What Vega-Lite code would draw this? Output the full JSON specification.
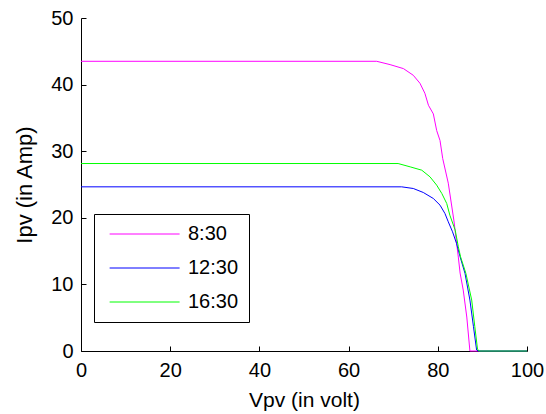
{
  "$schema": "https://vega.github.io/schema/vega-lite/v6.json",
  "width": 446,
  "height": 333,
  "autosize": {"type": "none"},
  "padding": {"left": 81, "top": 18, "right": 19, "bottom": 63},
  "background": "white",
  "config": {
    "view": {"stroke": null},
    "font": "Liberation Sans",
    "axis": {
      "grid": false,
      "domainColor": "black",
      "domainWidth": 1,
      "tickColor": "black",
      "tickSize": -5,
      "labelFlush": false,
      "labelFont": "Liberation Sans",
      "labelFontSize": 20,
      "labelColor": "black",
      "titleFont": "Liberation Sans",
      "titleFontWeight": "normal",
      "titleColor": "black"
    }
  },
  "data": {
    "values": [
      {"time": "8:30", "V": 0, "I": 43.5},
      {"time": "8:30", "V": 66.3, "I": 43.5},
      {"time": "8:30", "V": 69.3, "I": 43.0},
      {"time": "8:30", "V": 72.3, "I": 42.4},
      {"time": "8:30", "V": 74.5, "I": 41.4},
      {"time": "8:30", "V": 76.0, "I": 40.2},
      {"time": "8:30", "V": 77.1, "I": 38.7},
      {"time": "8:30", "V": 77.9, "I": 36.9},
      {"time": "8:30", "V": 79.0, "I": 35.6},
      {"time": "8:30", "V": 79.75, "I": 33.1},
      {"time": "8:30", "V": 80.5, "I": 31.6},
      {"time": "8:30", "V": 81.1, "I": 28.9},
      {"time": "8:30", "V": 82.35, "I": 25.2},
      {"time": "8:30", "V": 83.6, "I": 19.65},
      {"time": "8:30", "V": 84.6, "I": 14.1},
      {"time": "8:30", "V": 85.0, "I": 11.7},
      {"time": "8:30", "V": 85.7, "I": 9.15},
      {"time": "8:30", "V": 86.5, "I": 5.1},
      {"time": "8:30", "V": 87.2, "I": 0},
      {"time": "8:30", "V": 100, "I": 0},
      {"time": "12:30", "V": 0, "I": 24.65},
      {"time": "12:30", "V": 71.9, "I": 24.65},
      {"time": "12:30", "V": 74.5, "I": 24.4},
      {"time": "12:30", "V": 76.75, "I": 23.8},
      {"time": "12:30", "V": 79.0, "I": 22.9},
      {"time": "12:30", "V": 80.5, "I": 21.9},
      {"time": "12:30", "V": 81.6, "I": 20.65},
      {"time": "12:30", "V": 82.35, "I": 19.4},
      {"time": "12:30", "V": 83.3, "I": 17.9},
      {"time": "12:30", "V": 84.2, "I": 16.15},
      {"time": "12:30", "V": 85.0, "I": 14.15},
      {"time": "12:30", "V": 86.1, "I": 11.65},
      {"time": "12:30", "V": 87.2, "I": 7.65},
      {"time": "12:30", "V": 88.0, "I": 3.65},
      {"time": "12:30", "V": 88.7, "I": 0.15},
      {"time": "12:30", "V": 89.1, "I": 0},
      {"time": "12:30", "V": 100, "I": 0},
      {"time": "16:30", "V": 0, "I": 28.15},
      {"time": "16:30", "V": 71.1, "I": 28.15},
      {"time": "16:30", "V": 73.8, "I": 27.65},
      {"time": "16:30", "V": 76.4, "I": 27.15},
      {"time": "16:30", "V": 78.25, "I": 26.15},
      {"time": "16:30", "V": 79.75, "I": 24.9},
      {"time": "16:30", "V": 80.9, "I": 23.65},
      {"time": "16:30", "V": 82.0, "I": 22.15},
      {"time": "16:30", "V": 82.7, "I": 20.4},
      {"time": "16:30", "V": 83.9, "I": 18.15},
      {"time": "16:30", "V": 84.6, "I": 15.65},
      {"time": "16:30", "V": 85.1, "I": 14.15},
      {"time": "16:30", "V": 86.3, "I": 11.65},
      {"time": "16:30", "V": 87.6, "I": 7.65},
      {"time": "16:30", "V": 88.3, "I": 3.65},
      {"time": "16:30", "V": 88.9, "I": 0.3},
      {"time": "16:30", "V": 89.2, "I": 0},
      {"time": "16:30", "V": 100, "I": 0}
    ]
  },
  "mark": {"type": "line", "strokeWidth": 1, "interpolate": "linear"},
  "encoding": {
    "x": {
      "field": "V",
      "type": "quantitative",
      "scale": {"domain": [0, 100], "nice": false},
      "axis": {"values": [0, 20, 40, 60, 80, 100], "title": "Vpv (in volt)", "titleFontSize": 21, "labelPadding": 14, "titlePadding": 9}
    },
    "y": {
      "field": "I",
      "type": "quantitative",
      "scale": {"domain": [0, 50], "nice": false},
      "axis": {"values": [0, 10, 20, 30, 40, 50], "title": "Ipv (in Amp)", "titleFontSize": 22, "labelPadding": 13, "titlePadding": 14}
    },
    "color": {
      "field": "time",
      "type": "nominal",
      "sort": ["8:30", "12:30", "16:30"],
      "scale": {"domain": ["8:30", "12:30", "16:30"], "range": ["#ff00ff", "#0000ff", "#00ff00"]},
      "legend": {
        "title": null,
        "orient": "none",
        "legendX": 13,
        "legendY": 196,
        "fillColor": "white",
        "strokeColor": "black",
        "padding": 10,
        "symbolType": "M-0.5,0H7.5",
        "symbolSize": 306,
        "symbolStrokeWidth": 1,
        "rowPadding": 14,
        "labelFont": "Liberation Sans",
        "labelFontSize": 20,
        "labelColor": "black",
        "labelOffset": 64
      }
    },
    "order": {"field": "V", "type": "quantitative"}
  }
}
